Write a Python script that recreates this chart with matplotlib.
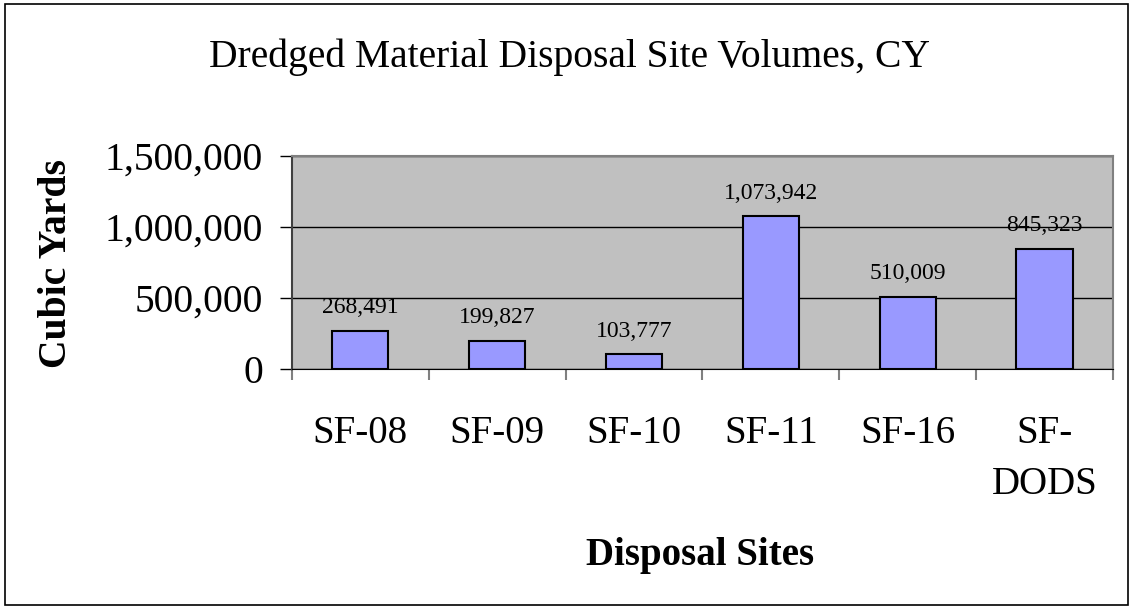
import numpy as np
import matplotlib.pyplot as plt
from matplotlib.patches import Rectangle
from matplotlib.ticker import FuncFormatter

# Dados
sites = ["SF-08", "SF-09", "SF-10", "SF-11", "SF-16", "SF-\nDODS"]
volumes = [268491, 199827, 103777, 1073942, 510009, 845323]
yticks = [0, 500000, 1000000, 1500000]

plt.rcParams['font.family'] = ['Liberation Serif', 'DejaVu Serif']

fig = plt.figure(figsize=(11.33, 6.09), dpi=100)
ax = fig.add_axes([0.2577, 0.3941, 0.7246, 0.3498])

# moldura externa
fig.patches.append(Rectangle((0.004, 0.006), 0.992, 0.988, transform=fig.transFigure,
                             fill=False, edgecolor='black', linewidth=1.2))

x = np.arange(len(sites))
ax.set_facecolor('#C0C0C0')
ax.bar(x, volumes, width=0.41, color='#9999FF', edgecolor='black', linewidth=1.5, zorder=3)

for xi, v in zip(x, volumes):
    ax.annotate(f"{v:,}", (xi, v), xytext=(0, 9), textcoords='offset points',
                ha='center', va='bottom', fontsize=17, zorder=4)

ax.set_xlim(-0.5, len(sites) - 0.5)
ax.set_ylim(0, 1500000)
ax.set_yticks(yticks)
ax.yaxis.set_major_formatter(FuncFormatter(lambda v, p: f"{int(v):,}"))
ax.yaxis.grid(True, color='black', linewidth=1)
ax.set_axisbelow(True)

# ticks nas divisões, rótulos no centro
ax.set_xticks(np.arange(len(sites) + 1) - 0.5)
ax.set_xticklabels([])
ax.set_xticks(x, minor=True)
ax.set_xticklabels(sites, minor=True, fontsize=28, linespacing=1.5, va='top')
ax.tick_params(axis='x', which='major', direction='out', length=8, color='#808080', width=1.5)
ax.tick_params(axis='x', which='minor', length=0, pad=33)
ax.tick_params(axis='y', direction='out', length=9, width=1, labelsize=28.5, pad=12)

for s in ['top', 'right']:
    ax.spines[s].set_color('#808080')
    ax.spines[s].set_linewidth(1.5)
ax.spines['left'].set_color('#404040')
ax.spines['left'].set_linewidth(1.5)
ax.spines['bottom'].set_color('black')

fig.text(0.503, 0.906, "Dredged Material Disposal Site Volumes, CY", ha='center', va='center', fontsize=28.5)
fig.text(0.05, 0.567, "Cubic Yards", ha='center', va='center', rotation=90,
         fontsize=28.5, fontweight='bold')
fig.text(0.618, 0.088, "Disposal Sites", ha='center', va='center', fontsize=28, fontweight='bold')

plt.savefig("out.png", dpi=100)
